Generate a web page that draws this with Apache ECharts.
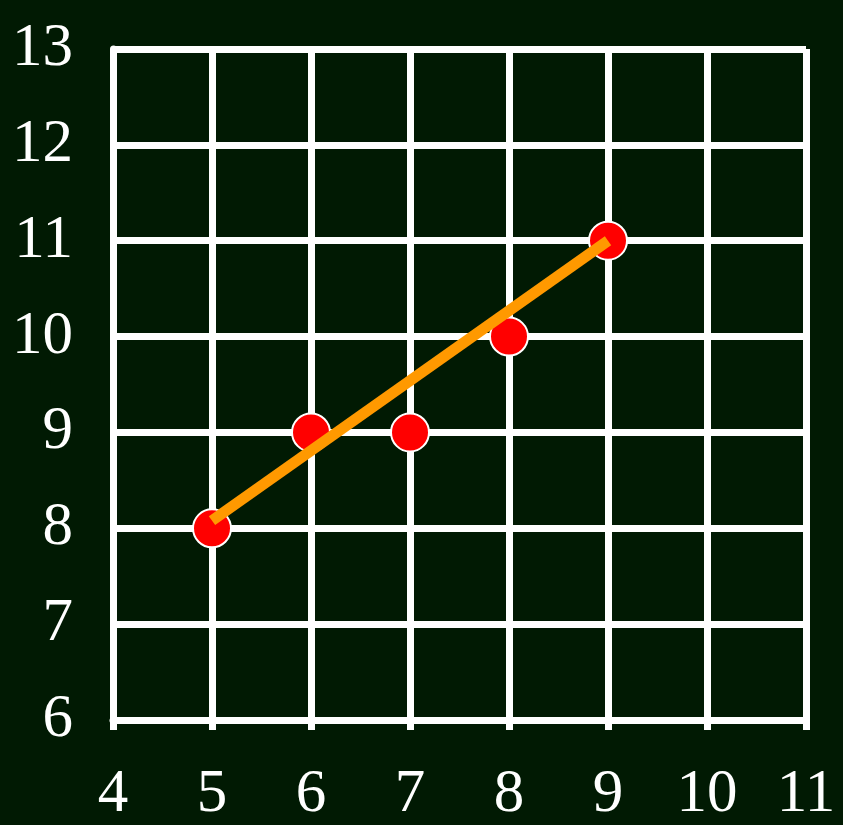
<!DOCTYPE html>
<html>
<head>
<meta charset="utf-8">
<script src="https://cdn.jsdelivr.net/npm/echarts@6/dist/echarts.min.js"></script>
<style>
html, body { margin: 0; padding: 0; background: #011a03; }
#chart { width: 843px; height: 825px; }
</style>
</head>
<body>
<div id="chart"></div>
<script>
// data points
const xValues = [5, 6, 7, 8, 9]
const yValues = [8, 9, 9, 10, 11]
// fitted line end points
const lineX = [5, 9]
const lineY = [8.08, 11]

const xRange = [4, 11]
const yRange = [6, 13]

const chart = echarts.init(document.getElementById('chart'))

const labelStyle = {
    color: '#ffffff',
    fontFamily: 'Liberation Serif, Times New Roman, serif',
    fontSize: 61
}

const option = {
    backgroundColor: '#011a03',
    animation: false,
    grid: {
        left: 113,
        right: 37,
        top: 49,
        bottom: 102
    },
    xAxis: {
        type: 'value',
        min: xRange[0],
        max: xRange[1],
        interval: 1,
        axisLine: { show: true, lineStyle: { color: '#ffffff', width: 7 } },
        axisTick: { show: true, length: 10, lineStyle: { color: '#ffffff', width: 7 } },
        axisLabel: { ...labelStyle, margin: 44 },
        splitLine: { show: true, lineStyle: { color: '#ffffff', width: 7 } }
    },
    yAxis: {
        type: 'value',
        min: yRange[0],
        max: yRange[1],
        interval: 1,
        axisLine: { show: true, lineStyle: { color: '#ffffff', width: 7 } },
        axisTick: { show: false },
        axisLabel: { ...labelStyle, margin: 40 },
        splitLine: { show: true, lineStyle: { color: '#ffffff', width: 7 } }
    },
    series: [
        {
            type: 'scatter',
            data: xValues.map((x, i) => [x, yValues[i]]),
            symbolSize: 38,
            itemStyle: {
                color: '#ff0000',
                borderColor: '#ffffff',
                borderWidth: 2,
                opacity: 1
            },
            z: 2
        },
        {
            type: 'line',
            data: lineX.map((x, i) => [x, lineY[i]]),
            showSymbol: false,
            lineStyle: { color: '#ff9900', width: 11, cap: 'butt' },
            z: 3
        }
    ]
}

chart.setOption(option)
</script>
</body>
</html>
